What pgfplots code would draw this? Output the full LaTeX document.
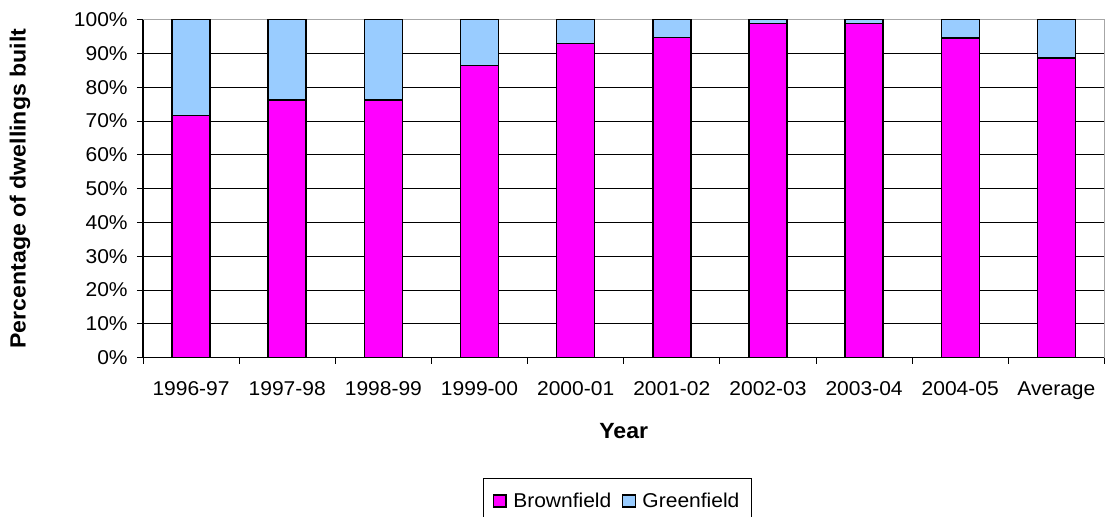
\documentclass[border=0pt]{standalone}
\usepackage{pgfplots}
\pgfplotsset{compat=1.18}
\usepackage{fontspec}
\setmainfont[FakeStretch=1.05]{Liberation Sans}
\definecolor{brown}{HTML}{FF00FF}
\definecolor{green}{HTML}{99CCFF}
\begin{document}
\begin{tikzpicture}
\useasboundingbox (0pt,0pt) rectangle (830.25pt,387.75pt);
\begin{axis}[
  at={(107.25pt,119.5pt)}, anchor=south west,
  scale only axis, width=721.1pt, height=253.5pt,
  ybar stacked, bar width=28.5pt,
  xmin=-0.5, xmax=9.5, ymin=0, ymax=100,
  ytick={0,10,...,100},
  yticklabel={\pgfmathprintnumber{\tick}\%},
  xtick={0,...,9},
  xticklabels={1996-97,1997-98,1998-99,1999-00,2000-01,2001-02,2002-03,2003-04,2004-05,Average},
  minor xtick={-0.5,0.5,...,9.5},
  major x tick style={draw=none},
  minor tick length=4.5pt, major tick length=4.5pt,
  tick align=outside,
  axis x line*=bottom, axis y line*=left,
  axis line style={black, line width=0.8pt, -},
  tick style={black, line width=0.7pt},
  ymajorgrids, grid style={black, line width=0.6pt},
  font=\fontsize{15}{17}\selectfont,
  /pgf/number format/assume math mode=true,
  yticklabel style={xshift=-3.5pt},
  xticklabel style={yshift=-10pt},
  xlabel={Year},
  ylabel={Percentage of dwellings built},
  xlabel style={at={(axis description cs:0.5,-0.216)}, anchor=center, font=\fontsize{16.5}{18}\selectfont\bfseries},
  ylabel style={at={(axis description cs:-0.128,0.5)}, anchor=center, font=\fontsize{16.5}{18}\selectfont\bfseries},
  legend columns=2,
  legend style={at={(axis description cs:0.3536,-0.355)}, anchor=north west,
    draw=black, line width=0.6pt, font=\fontsize{15}{17}\selectfont,
    inner xsep=7pt, inner ysep=9pt,
    /tikz/every odd column/.append style={column sep=3pt},
    /tikz/every even column/.append style={column sep=6pt}},
  legend image code/.code={\draw[#1, draw=black, line width=0.9pt] (0pt,-4.5pt) rectangle (9.5pt,4.5pt);},
  clip=false,
]
\addplot[fill=brown, draw=black, line width=1.1pt] coordinates {
 (0,71.6) (1,76.2) (2,76.2) (3,86.4) (4,92.9) (5,94.7) (6,98.8) (7,98.8) (8,94.6) (9,88.7)};
\addplot[fill=green, draw=black, line width=1.1pt] coordinates {
 (0,28.4) (1,23.8) (2,23.8) (3,13.6) (4,7.1) (5,5.3) (6,1.2) (7,1.2) (8,5.4) (9,11.3)};
\legend{Brownfield, Greenfield}
\draw[gray!70, line width=0.8pt] (rel axis cs:0,1) -- (rel axis cs:1,1) -- (rel axis cs:1,0);
\end{axis}
\end{tikzpicture}
\end{document}
